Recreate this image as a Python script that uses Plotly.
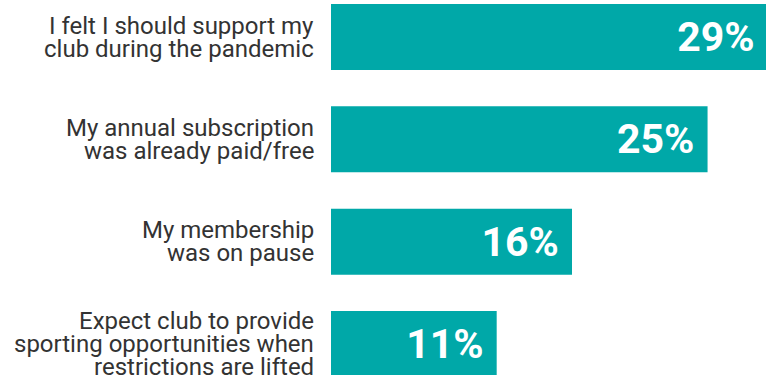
import plotly.graph_objects as go

# Survey responses: reasons members kept paying during the pandemic
categories = [
    "I felt I should support my<br>club during the pandemic",
    "My annual subscription<br>was already paid/free",
    "My membership<br>was on pause",
    "Expect club to provide<br>sporting opportunities when<br>restrictions are lifted",
]
values = [29, 25, 16, 11]
value_labels = [f"{v}%" for v in values]

BAR_COLOR = "#00A8A8"
TEXT_COLOR = "#333333"
LABEL_FONT = "Roboto"
LABEL_SIZE = 24
LINE_STEP = 23  # px between label lines (tighter than Plotly's default)

positions = list(range(len(categories)))

fig = go.Figure(
    go.Bar(
        x=values,
        y=positions,
        orientation="h",
        width=0.645,
        marker=dict(color=BAR_COLOR, line=dict(width=0)),
        # value shown at the inner end of each bar, padded with a non-breaking space
        text=[f"<b>{lab}</b>\u00a0" for lab in value_labels],
        textposition="inside",
        insidetextanchor="end",
        constraintext="none",
        textangle=0,
        insidetextfont=dict(family="Roboto", size=41, color="white"),
        hoverinfo="skip",
    )
)

# Category labels, one annotation per line so the line spacing stays compact
annotations = []
for pos, cat in zip(positions, categories):
    lines = cat.split("<br>")
    n = len(lines)
    for i, line in enumerate(lines):
        annotations.append(dict(
            x=0, y=pos, xref="paper", yref="y",
            text=line, showarrow=False,
            xanchor="right", yanchor="middle", align="right",
            xshift=-15,
            yshift=((n - 1) / 2 - i) * LINE_STEP,
            font=dict(family=LABEL_FONT, size=LABEL_SIZE, color=TEXT_COLOR),
        ))

fig.update_layout(
    width=766,
    height=375,
    margin=dict(l=331, r=0, t=0, b=0),
    paper_bgcolor="white",
    plot_bgcolor="white",
    showlegend=False,
    xaxis=dict(range=[0, 28.88], visible=False, fixedrange=True),
    yaxis=dict(range=[3.303, -0.3616], visible=False, fixedrange=True),
    annotations=annotations,
)

fig.write_html("out.html")
